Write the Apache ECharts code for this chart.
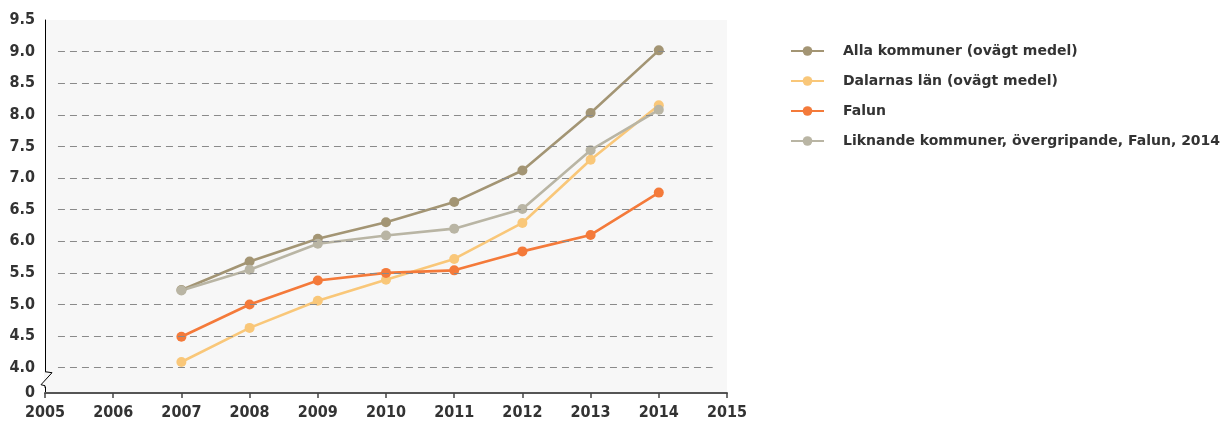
<!DOCTYPE html>
<html>
<head>
<meta charset="utf-8">
<script src="https://cdn.jsdelivr.net/npm/echarts@6/dist/echarts.min.js"></script>
<style>
  html, body { margin: 0; padding: 0; background: #fff; }
  #chart { width: 1226px; height: 421px; }
</style>
</head>
<body>
<div id="chart"></div>
<script>
// data
const years = [2007, 2008, 2009, 2010, 2011, 2012, 2013, 2014]
const seriesNames = [
  'Alla kommuner (ovägt medel)',
  'Dalarnas län (ovägt medel)',
  'Falun',
  'Liknande kommuner, övergripande, Falun, 2014'
]
const alla = [5.23, 5.68, 6.04, 6.30, 6.62, 7.12, 8.03, 9.02]
const dalarna = [4.09, 4.63, 5.06, 5.39, 5.72, 6.29, 7.29, 8.15]
const falun = [4.49, 5.00, 5.38, 5.50, 5.54, 5.84, 6.10, 6.77]
const liknande = [5.22, 5.55, 5.96, 6.09, 6.20, 6.51, 7.44, 8.08]
const yLabelValues = [3.6, 4.0, 4.5, 5.0, 5.5, 6.0, 6.5, 7.0, 7.5, 8.0, 8.5, 9.0, 9.5]
const yGridValues = [4.0, 4.5, 5.0, 5.5, 6.0, 6.5, 7.0, 7.5, 8.0, 8.5, 9.0]

const colors = ['#a39574', '#f9c779', '#f47a3a', '#b9b5a4']
const font = 'DejaVu Sans'
const axisFont = 'DejaVu Sans Condensed'

let myChart = echarts.init(document.getElementById('chart'))

function makeSeries (name, values, color) {
  return {
    name: name,
    type: 'line',
    data: years.map((y, i) => [y, values[i]]),
    symbol: 'circle',
    symbolSize: 10,
    z: 3,
    lineStyle: { width: 2.6, color: color },
    itemStyle: { color: color },
    emphasis: { disabled: true }
  }
}

// dashed grid lines, a little shorter than the plot like the original
let gridLines = {
  type: 'line',
  data: [],
  silent: true,
  z: 1,
  markLine: {
    silent: true,
    symbol: 'none',
    label: { show: false },
    lineStyle: { color: '#8a8a8a', type: [7, 5], width: 1 },
    data: yGridValues.map(v => [{ coord: [2005.19, v] }, { coord: [2014.79, v] }])
  }
}

let option = {
  animation: false,
  color: colors,
  grid: {
    left: 45,
    right: 499,
    top: 20,
    bottom: 28,
    outerBoundsMode: 'none',
    show: true,
    backgroundColor: '#f7f7f7',
    borderWidth: 0
  },
  legend: {
    orient: 'vertical',
    left: 790,
    top: 44,
    padding: 0,
    itemWidth: 33,
    itemHeight: 12,
    itemGap: 16,
    textStyle: {
      fontFamily: font,
      fontSize: 14,
      fontWeight: 'bold',
      color: '#333',
      padding: [0, 0, 0, 14]
    },
    data: seriesNames
  },
  xAxis: {
    type: 'value',
    min: 2005,
    max: 2015,
    interval: 1,
    axisLine: { show: true, lineStyle: { color: '#555', width: 2 } },
    axisTick: { show: true, length: 5, lineStyle: { color: '#444', width: 1.5 } },
    axisLabel: {
      fontFamily: axisFont,
      fontSize: 16,
      fontWeight: 'bold',
      color: '#333',
      margin: 12,
      formatter: v => String(v)
    },
    splitLine: { show: false }
  },
  yAxis: {
    type: 'value',
    min: 3.6,
    max: 9.5,
    axisLine: { show: true, lineStyle: { color: '#000', width: 1 } },
    axisTick: { show: false },
    axisLabel: {
      fontFamily: axisFont,
      fontSize: 16,
      fontWeight: 'bold',
      color: '#333',
      margin: 10,
      customValues: yLabelValues,
      formatter: v => (v < 3.9 ? '0' : v.toFixed(1))
    },
    splitLine: { show: false }
  },
  series: [
    gridLines,
    makeSeries(seriesNames[0], alla, colors[0]),
    makeSeries(seriesNames[1], dalarna, colors[1]),
    makeSeries(seriesNames[2], falun, colors[2]),
    makeSeries(seriesNames[3], liknande, colors[3])
  ]
}
myChart.setOption(option)

// axis break mark between 0 and 4.0
let p = myChart.convertToPixel({ gridIndex: 0 }, [2005, 4.0])
let x0 = p[0]
let y4 = p[1]
myChart.setOption({
  graphic: [
    {
      type: 'rect',
      shape: { x: x0 - 1, y: y4 + 4, width: 2, height: 15 },
      style: { fill: '#f7f7f7' },
      z: 100
    },
    {
      type: 'polyline',
      shape: { points: [[x0, y4 + 4], [x0 + 7, y4 + 5], [x0 - 4, y4 + 17], [x0, y4 + 18], [x0, y4 + 20]] },
      style: { stroke: '#000', lineWidth: 1, fill: null },
      z: 101
    }
  ]
})
</script>
</body>
</html>
